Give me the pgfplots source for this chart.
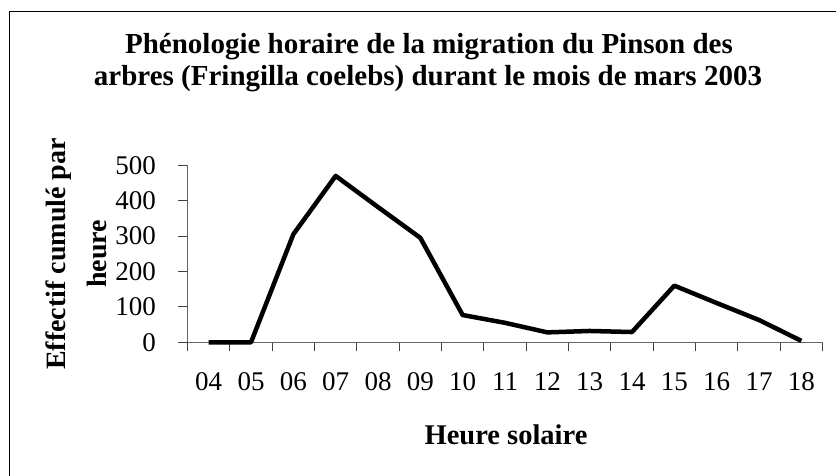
\documentclass[border=0pt]{standalone}
\usepackage{fontspec}
\setmainfont{Liberation Serif}
\usepackage{pgfplots}
\pgfplotsset{compat=1.18}
\begin{document}
\begin{tikzpicture}[x=1pt,y=1pt]
\useasboundingbox (0,0) rectangle (836,476);
% frame (top and left visible)
\draw[black, line width=1pt] (9,0) -- (9,464) -- (836,464);
\begin{axis}[
  at={(187.5pt,133.7pt)}, anchor=south west,
  scale only axis, width=635pt, height=177pt,
  xmin=-0.5, xmax=14.5, ymin=0, ymax=500,
  axis x line=bottom, axis y line=left,
  axis line style={-, black!60, line width=1pt},
  tick align=outside,
  major tick length=9pt,
  tick style={black!75, line width=0.8pt},
  xtick={-0.5,0.5,...,14.5}, xticklabels={},
  extra x ticks={0,1,...,14},
  extra x tick labels={04,05,06,07,08,09,10,11,12,13,14,15,16,17,18},
  extra x tick style={major tick length=0pt, tick style={draw=none},
     xticklabel style={anchor=north, inner sep=0pt, yshift=-30pt}},
  ytick={0,100,...,500},
  yticklabel style={anchor=east, inner sep=0pt, xshift=-22.5pt},
  ticklabel style={font=\fontsize{27}{27}\selectfont},
  /pgf/number format/assume math mode=true,
  clip=false,
]
\addplot[black, line width=4.5pt, line join=round, mark=none] coordinates {
 (0,0) (1,0) (2,305) (3,470) (4,382) (5,295) (6,77) (7,55) (8,28) (9,32) (10,29) (11,160) (12,111) (13,63) (14,4)
};
\end{axis}
\node[anchor=base, font=\bfseries\fontsize{29}{30}\selectfont] at (429,422.7) {Phénologie horaire de la migration du Pinson des};
\node[anchor=base, font=\bfseries\fontsize{29}{30}\selectfont] at (428,390.3) {arbres (Fringilla coelebs) durant le mois de mars 2003};
\node[anchor=base, font=\bfseries\fontsize{28.5}{30}\selectfont] at (506,31.7) {Heure solaire};
\node[rotate=90, anchor=base, font=\bfseries\fontsize{28}{30}\selectfont] at (65,222) {Effectif cumulé par};
\node[rotate=90, anchor=base, font=\bfseries\fontsize{28}{30}\selectfont] at (106,222) {heure};
\end{tikzpicture}
\end{document}
